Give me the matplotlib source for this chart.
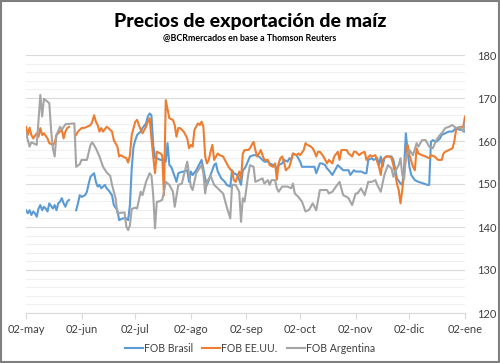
import numpy as np
import pandas as pd
import matplotlib
matplotlib.use("Agg")
import matplotlib.pyplot as plt
from matplotlib.patches import Rectangle

# ---------------- data (day offsets from 02-may-2018) ----------------
brasil_day = [0,1,2,3,4,5,6,7,8,9,10,11,12,13,15,16,17,18,19,20,21,22,23,24,26,
              28,29,30,31,33,34,35,36,38,39,40,41,42,44,45,46,48,49,51,52,54,56,57,58,59,60,61,
              62,64,65,67,68,69,70,71,72,73,75,77,78,79,80,81,82,84,85,86,88,90,91,92,93,95,97,98,
              100,101,102,103,105,106,107,109,111,112,114,115,116,118,119,120,121,122,123,
              125,127,128,130,132,133,135,136,138,139,140,141,143,144,146,147,148,149,151,153,154,
              156,158,160,161,162,164,165,167,168,169,171,172,173,174,176,177,179,180,181,183,184,186,
              187,189,190,191,193,194,196,197,198,199,200,201,203,204,205,206,207,209,210,211,212,213,
              214,215,217,219,222,224,225,226,227,229,231,232,234,236,238,240,242,244,245]
brasil_val = [143.9,143.2,143.9,142.8,143.6,143.2,142.4,144.3,145.1,143.9,144.7,144.3,143.6,145.5,
              144.3,145.1,143.9,145.5,145.9,146.7,145.5,144.7,145.9,146.3,np.nan,
              143.9,145.5,147.4,147.0,147.4,148.2,150.1,151.7,152.5,150.5,149.4,149.8,149.0,149.8,
              149.0,148.6,147.4,145.1,143.9,141.6,142.0,142.0,141.6,145.1,153.6,158.7,160.2,
              161.4,162.2,163.0,164.1,165.7,166.4,166.0,159.1,156.0,156.0,155.6,155.6,155.2,159.5,
              154.4,154.0,152.9,150.5,152.5,152.7,152.9,153.2,150.5,152.9,152.1,153.2,154.8,155.6,
              151.3,149.8,150.9,152.1,154.4,154.8,152.9,151.3,150.5,149.8,149.4,153.2,152.5,152.1,
              150.9,149.8,153.2,153.6,154.4,
              156.4,156.7,156.7,156.4,155.6,155.2,155.2,154.8,154.4,154.4,153.2,154.4,154.8,155.6,
              155.2,156.0,155.6,157.1,156.7,155.2,154.0,
              154.0,154.0,154.0,154.0,152.5,154.8,154.8,154.4,153.6,153.2,152.1,152.9,153.6,154.4,
              153.6,153.2,153.2,153.2,152.1,153.2,152.9,152.9,
              152.9,152.5,152.5,155.6,156.0,155.6,156.0,154.4,156.4,154.0,156.0,156.4,156.4,156.4,
              155.6,153.6,151.3,150.1,149.8,153.6,161.8,157.5,
              154.0,152.1,150.9,150.5,150.1,149.8,149.8,159.8,160.2,159.8,160.6,161.4,161.8,162.2,
              162.2,163.0,162.6,162.6,162.2]

eeuu_day = [0,1,2,3,4,6,7,8,9,10,12,13,15,16,17,18,20,21,22,23,24,26,
            28,29,31,33,34,36,37,38,39,40,41,42,43,45,46,48,49,51,52,53,54,56,57,58,59,
            60,61,62,63,64,65,67,68,69,70,71,72,73,75,76,77,78,80,82,83,84,85,86,88,90,91,92,93,
            94,96,97,98,99,100,101,102,103,104,105,107,108,110,111,113,115,116,117,119,120,121,
            122,124,125,126,127,128,129,130,131,132,133,135,136,138,139,140,141,142,143,144,145,
            147,148,149,151,152,153,155,156,157,159,160,161,162,163,164,166,167,168,169,171,172,
            174,175,176,177,179,180,182,183,184,186,
            187,189,190,192,193,195,196,197,198,199,201,203,204,205,206,207,208,209,210,211,212,
            213,214,216,217,218,219,221,223,225,226,228,230,232,233,234,236,238,239,240,241,243,
            244,245]
eeuu_val = [163.3,161.4,163.1,161.4,160.6,161.8,161.0,163.0,161.4,161.8,160.6,159.5,159.1,159.5,
            161.4,161.8,162.6,160.6,162.2,163.0,163.3,np.nan,
            161.4,162.2,163.0,163.1,163.3,163.7,164.5,166.0,164.5,163.7,162.2,163.0,162.2,163.3,
            163.0,162.2,160.2,158.7,156.4,156.7,156.4,156.0,155.0,156.7,161.4,
            163.0,164.5,164.9,163.7,162.6,161.8,163.3,164.5,165.3,160.6,156.4,152.5,157.5,157.1,
            156.7,147.4,169.5,165.3,164.9,163.7,161.0,163.0,163.0,162.2,160.6,158.3,159.1,158.7,
            162.6,164.1,163.7,164.5,163.3,156.4,154.8,155.6,157.5,159.1,155.6,157.1,156.7,156.4,
            155.6,154.0,152.9,150.9,150.5,152.9,151.0,157.1,
            157.9,157.9,158.3,159.1,159.8,157.9,156.4,157.1,157.9,156.7,155.6,155.6,154.4,154.0,
            154.8,151.0,154.8,156.0,156.4,155.2,153.2,
            154.0,155.6,157.1,156.7,157.1,156.7,157.9,159.5,159.1,158.7,158.3,157.5,156.4,157.5,
            157.5,156.4,155.6,154.8,155.6,154.8,156.4,
            157.5,155.6,157.9,157.9,157.9,157.1,156.4,157.5,157.5,156.7,
            157.1,157.5,155.6,156.7,156.4,156.7,155.2,154.0,152.1,155.6,156.4,156.4,156.0,154.4,
            152.5,150.1,148.6,145.5,148.6,152.5,156.4,
            159.1,156.7,154.0,153.2,158.3,157.1,156.7,156.4,156.0,156.7,156.4,155.6,155.6,157.1,
            157.5,157.9,158.3,159.8,162.6,163.0,163.3,
            163.3,165.7]

argentina_day = [0,2,3,6,8,9,10,13,14,15,16,17,19,20,22,27,28,30,31,34,36,37,39,41,43,45,47,48,
                 50,51,55,56,57,58,59,61,62,64,65,67,69,70,71,72,73,74,76,77,78,80,82,83,85,87,88,
                 90,92,93,95,98,99,100,101,103,105,108,110,112,114,115,117,119,120,121,122,124,
                 125,127,128,130,132,133,135,136,137,139,140,141,143,146,148,149,150,152,154,156,
                 158,160,162,164,166,168,169,171,173,175,177,179,180,182,184,
                 185,187,189,191,193,195,196,198,200,202,204,205,206,208,209,210,211,212,214,216,
                 218,219,221,223,225,227,229,231,232,234,236,238,240,242,244,245]
argentina_val = [161.8,158.7,159.7,159.1,170.7,165.7,169.8,168.8,162.6,158.3,156.4,161.4,163.3,
                 162.6,163.9,164.1,154.0,154.6,155.6,155.6,159.1,159.7,158.3,156.4,154.0,152.7,
                 151.9,149.8,146.7,143.2,143.4,140.1,139.3,140.4,144.2,144.5,144.3,148.2,147.4,
                 150.5,152.5,152.0,147.4,139.7,145.9,145.9,146.3,148.2,150.5,149.8,148.2,144.7,
                 149.8,150.1,151.9,155.2,149.4,148.6,152.5,154.4,152.5,147.8,150.5,151.9,149.8,
                 148.6,147.8,144.7,142.0,149.8,149.8,148.2,141.2,146.7,145.9,152.1,
                 154.4,154.0,150.5,150.9,151.3,150.1,150.9,149.8,150.9,150.9,149.0,148.2,149.4,
                 149.4,149.0,150.1,147.8,147.0,145.9,143.6,
                 144.0,145.5,143.9,148.6,148.6,148.6,147.8,148.2,149.4,150.5,147.4,147.0,146.7,
                 145.1,147.8,
                 147.8,149.0,147.4,150.5,150.5,150.9,149.8,148.2,152.1,154.4,153.6,151.7,152.9,
                 154.4,156.0,152.1,151.0,156.4,157.9,156.7,
                 159.5,158.7,160.2,160.2,158.7,158.3,160.2,161.4,161.8,163.0,163.3,163.7,163.0,
                 163.3,162.2,164.1]

month_labels = ["02-may", "02-jun", "02-jul", "02-ago", "02-sep", "02-oct", "02-nov", "02-dic", "02-ene"]
month_dates = ["2018-05-02", "2018-06-02", "2018-07-02", "2018-08-02", "2018-09-02",
               "2018-10-02", "2018-11-02", "2018-12-02", "2019-01-02"]
y_ticks = [120, 130, 140, 150, 160, 170, 180]

series = [("FOB Brasil", brasil_day, brasil_val, "#5B9BD5"),
          ("FOB EE.UU.", eeuu_day, eeuu_val, "#ED7D31"),
          ("FOB Argentina", argentina_day, argentina_val, "#A5A5A5")]

# ---------------- figure ----------------
plt.rcParams['font.family'] = ['Lato', 'DejaVu Sans']
base = pd.Timestamp("2018-05-02")

fig = plt.figure(figsize=(5.0, 3.63), dpi=100)
ax = fig.add_axes([26/500, 1-313/363, (465-26)/500, (313-55)/363])

for name, d, v, c in series:
    x = base + pd.to_timedelta(d, unit="D")
    ax.plot(x, v, color=c, lw=1.5, label=name, solid_joinstyle="round")

ax.set_ylim(120, 180)
ax.set_xlim(pd.Timestamp(month_dates[0]), pd.Timestamp(month_dates[-1]))
ax.set_yticks(y_ticks)
ax.set_yticks(np.arange(120, 181, 2), minor=True)
ax.yaxis.tick_right()
ax.tick_params(axis="y", which="both", length=0, pad=9, labelsize=8, labelcolor="#404040")
ax.grid(axis="y", which="major", color="#d9d9d9", lw=0.8)
ax.grid(axis="y", which="minor", color="#f0f0f0", lw=0.8)
ax.set_axisbelow(True)

ax.set_xticks([pd.Timestamp(s) for s in month_dates])
ax.set_xticklabels(month_labels)
ax.tick_params(axis="x", which="major", length=4, color="#d9d9d9", direction="out",
               pad=4, labelsize=8, labelcolor="#404040")
ax.tick_params(axis="x", which="minor", length=0)

for s in ["top", "left", "right"]:
    ax.spines[s].set_visible(False)
ax.spines["bottom"].set_color("#d9d9d9")
ax.spines["bottom"].set_linewidth(0.8)

fig.text(0.5, 1-27/363, "Precios de exportación de maíz", ha="center", va="baseline",
         family=["Lato", "DejaVu Sans"], weight="black", fontsize=14, color="black")
fig.text(0.5, 1-40/363, "@BCRmercados en base a Thomson Reuters", ha="center", va="baseline",
         family=["Lato", "DejaVu Sans"], weight="bold", fontsize=6.4, color="black")

fig.legend(loc="center", bbox_to_anchor=(0.5, 1-348/363), ncol=3, frameon=False,
           fontsize=7.6, handlelength=1.7, handletextpad=0.1, columnspacing=0.9,
           labelcolor="#404040")

fig.patches.append(Rectangle((0.002, 0.003), 0.996, 0.994, transform=fig.transFigure,
                             fill=False, edgecolor="#7f7f7f", lw=1.5))

fig.savefig("out.png", dpi=100, facecolor="white")
